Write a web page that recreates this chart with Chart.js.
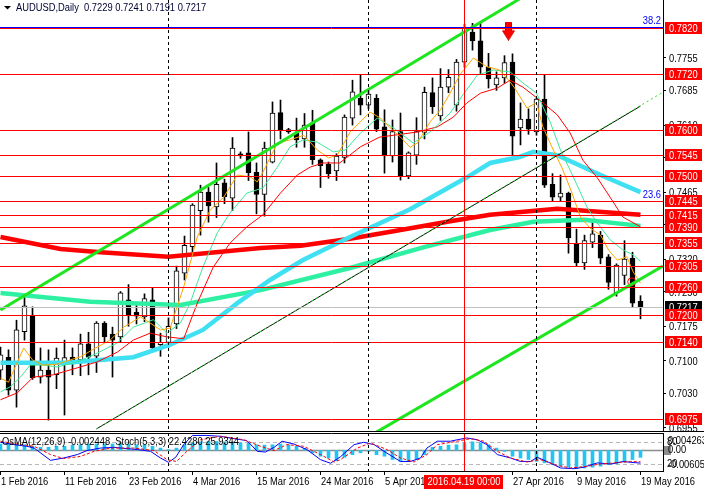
<!DOCTYPE html>
<html>
<head>
<meta charset="utf-8">
<script src="https://cdn.jsdelivr.net/npm/chart.js@4.4.1/dist/chart.umd.min.js"></script>
<style>
  html, body { margin: 0; padding: 0; background: #fff; }
  #wrap { position: relative; width: 704px; height: 494px; overflow: hidden; background: #fff; }
  #main { position: absolute; left: 0; top: 0; }
  #sub { position: absolute; left: 0; top: 432px; }
</style>
</head>
<body>
<div id="wrap">
  <canvas id="main" width="704" height="432"></canvas>
  <canvas id="sub" width="704" height="62"></canvas>
</div>
<script>
// daily bars, AUDUSD
const dates = [
  "1 Feb 2016","2 Feb 2016","3 Feb 2016","4 Feb 2016","5 Feb 2016","8 Feb 2016","9 Feb 2016","10 Feb 2016","11 Feb 2016","12 Feb 2016",
  "15 Feb 2016","16 Feb 2016","17 Feb 2016","18 Feb 2016","19 Feb 2016","22 Feb 2016","23 Feb 2016","24 Feb 2016","25 Feb 2016","26 Feb 2016",
  "29 Feb 2016","1 Mar 2016","2 Mar 2016","3 Mar 2016","4 Mar 2016","6 Mar 2016","7 Mar 2016","8 Mar 2016","9 Mar 2016","10 Mar 2016",
  "11 Mar 2016","14 Mar 2016","15 Mar 2016","16 Mar 2016","17 Mar 2016","18 Mar 2016","20 Mar 2016","21 Mar 2016","22 Mar 2016","23 Mar 2016",
  "24 Mar 2016","25 Mar 2016","28 Mar 2016","29 Mar 2016","30 Mar 2016","31 Mar 2016","1 Apr 2016","4 Apr 2016","5 Apr 2016","6 Apr 2016",
  "7 Apr 2016","8 Apr 2016","11 Apr 2016","12 Apr 2016","13 Apr 2016","14 Apr 2016","15 Apr 2016","18 Apr 2016","19 Apr 2016","20 Apr 2016",
  "21 Apr 2016","22 Apr 2016","25 Apr 2016","26 Apr 2016","27 Apr 2016","28 Apr 2016","29 Apr 2016","2 May 2016","3 May 2016","4 May 2016",
  "5 May 2016","6 May 2016","9 May 2016","10 May 2016","11 May 2016","12 May 2016","13 May 2016","16 May 2016","17 May 2016","18 May 2016",
  "19 May 2016"
];
const opens = [
  0.7080,0.7108,0.7037,0.7163,0.7199,0.7065,0.7080,0.7070,0.7095,0.7108,
  0.7102,0.7137,0.7110,0.7182,0.7158,0.7152,0.7232,0.7205,0.7195,0.7232,
  0.7135,0.7140,0.7180,0.7290,0.7347,0.7425,0.7465,0.7433,0.7485,0.7452,
  0.7548,0.7550,0.7508,0.7460,0.7530,0.7637,0.7600,0.7592,0.7580,0.7615,
  0.7535,0.7525,0.7511,0.7540,0.7625,0.7668,0.7653,0.7668,0.7606,0.7543,
  0.7596,0.7500,0.7545,0.7594,0.7680,0.7630,0.7692,0.7653,0.7746,0.7811,
  0.7792,0.7735,0.7697,0.7712,0.7746,0.7604,0.7623,0.7595,0.7666,0.7482,
  0.7454,0.7463,0.7353,0.7312,0.7357,0.7372,0.7325,0.7247,0.7285,0.7322,
  0.7229
];
const highs = [
  0.7130,0.7124,0.7188,0.7243,0.7217,0.7128,0.7124,0.7128,0.7145,0.7128,
  0.7158,0.7162,0.7185,0.7185,0.7173,0.7250,0.7265,0.7220,0.7245,0.7258,
  0.7160,0.7193,0.7305,0.7370,0.7440,0.7480,0.7475,0.7528,0.7493,0.7583,
  0.7552,0.7595,0.7528,0.7573,0.7660,0.7664,0.7603,0.7625,0.7635,0.7642,
  0.7537,0.7530,0.7548,0.7632,0.7707,0.7718,0.7685,0.7676,0.7643,0.7621,
  0.7636,0.7552,0.7626,0.7692,0.7712,0.7732,0.7730,0.7752,0.7828,0.7830,
  0.7830,0.7765,0.7725,0.7760,0.7764,0.7658,0.7645,0.7668,0.7718,0.7505,
  0.7502,0.7465,0.7385,0.7372,0.7400,0.7380,0.7330,0.7310,0.7360,0.7335,
  0.7241
];
const lows = [
  0.7060,0.7026,0.7000,0.7145,0.7060,0.7052,0.6972,0.7040,0.6983,0.7070,
  0.7068,0.7070,0.7075,0.7140,0.7065,0.7140,0.7175,0.7180,0.7185,0.7120,
  0.7110,0.7130,0.7170,0.7275,0.7335,0.7372,0.7400,0.7410,0.7440,0.7425,
  0.7538,0.7490,0.7418,0.7413,0.7528,0.7580,0.7592,0.7562,0.7562,0.7525,
  0.7475,0.7495,0.7490,0.7528,0.7610,0.7632,0.7645,0.7596,0.7506,0.7530,
  0.7491,0.7494,0.7525,0.7580,0.7635,0.7620,0.7680,0.7640,0.7735,0.7772,
  0.7720,0.7690,0.7685,0.7700,0.7545,0.7567,0.7590,0.7588,0.7475,0.7446,
  0.7446,0.7333,0.7305,0.7298,0.7345,0.7310,0.7255,0.7240,0.7265,0.7217,
  0.7191
];
const closes = [
  0.7113,0.7037,0.7167,0.7219,0.7063,0.7080,0.7065,0.7106,0.7107,0.7100,
  0.7137,0.7108,0.7182,0.7152,0.7145,0.7247,0.7200,0.7197,0.7235,0.7128,
  0.7140,0.7175,0.7295,0.7350,0.7437,0.7465,0.7435,0.7482,0.7455,0.7560,
  0.7543,0.7507,0.7460,0.7560,0.7636,0.7600,0.7595,0.7578,0.7610,0.7535,
  0.7522,0.7505,0.7543,0.7627,0.7682,0.7653,0.7677,0.7601,0.7543,0.7596,
  0.7500,0.7550,0.7596,0.7681,0.7650,0.7692,0.7713,0.7746,0.7820,0.7792,
  0.7735,0.7710,0.7712,0.7745,0.7586,0.7623,0.7601,0.7666,0.7480,0.7454,
  0.7463,0.7366,0.7312,0.7360,0.7375,0.7322,0.7270,0.7307,0.7320,0.7225,
  0.7217
];

// moving averages: [bar, price]
const maFast = [[0,0.7063],[1,0.7054],[2.9,0.7128],[4,0.7102],[5.3,0.7091],[7.1,0.7093],[8.7,0.7102],[10,0.7109],[12.1,0.7130],[13.7,0.7145],[15.4,0.7173],[17.5,0.7195],[18.7,0.7182],[20,0.7167],[21.2,0.7171],[22.9,0.7260],[24.6,0.7368],[26.2,0.7426],[27.9,0.7454],[29.6,0.7502],[31.2,0.7498],[32.1,0.7487],[32.8,0.7508],[34.6,0.7571],[36.2,0.7578],[37.9,0.7588],[39.6,0.7556],[41,0.7539],[42.1,0.7545],[43.7,0.7595],[46.2,0.7638],[47.5,0.7625],[48.7,0.7604],[50,0.7584],[51.2,0.7562],[52.1,0.7571],[53.7,0.7617],[55,0.7643],[56.2,0.7679],[57.4,0.7718],[59.1,0.7755],[60.8,0.7736],[62.4,0.7729],[63.7,0.7703],[64.2,0.7692],[65.8,0.7647],[67,0.7658],[67.8,0.7606],[69.1,0.7556],[70.2,0.7517],[71.2,0.7474],[72.5,0.7411],[73.7,0.7387],[75,0.7372],[76,0.7340],[77.1,0.7318],[78.3,0.7325],[79.1,0.7292],[80,0.7268]];
const maMid = [[0,0.7033],[1.2,0.7044],[2.5,0.7065],[3.7,0.7091],[5.3,0.7091],[7.1,0.7087],[9.6,0.7098],[12.1,0.7117],[14.6,0.7139],[16.6,0.7173],[19.1,0.7189],[20.8,0.7160],[22.5,0.7182],[23.7,0.7225],[25.3,0.7303],[27.1,0.7377],[28.7,0.7420],[30.8,0.7463],[32.8,0.7474],[34.6,0.7519],[36.2,0.7563],[37.8,0.7578],[39.6,0.7573],[41.6,0.7552],[43.1,0.7556],[45,0.7593],[47.1,0.7625],[49.1,0.7604],[51.6,0.7571],[53.7,0.7595],[56.2,0.7636],[57.8,0.7675],[59.6,0.7718],[61.6,0.7729],[63.7,0.7725],[65.3,0.7701],[67,0.7679],[68.7,0.7617],[70,0.7556],[71.6,0.7498],[73.3,0.7433],[74.6,0.7398],[76.2,0.7362],[77.8,0.7340],[79.1,0.7329],[80,0.7315]];
const maSlow = [[0,0.7016],[2.1,0.7031],[4.1,0.7065],[6.6,0.7070],[9.6,0.7085],[12.1,0.7098],[14.6,0.7119],[16.6,0.7145],[18.7,0.7160],[20.8,0.7152],[22.9,0.7148],[24.6,0.7225],[26.6,0.7303],[28.7,0.7355],[30.8,0.7390],[32.8,0.7416],[35,0.7463],[37.1,0.7502],[38.7,0.7519],[40.3,0.7528],[42.4,0.7528],[45,0.7563],[47.4,0.7584],[49.6,0.7589],[52.1,0.7595],[54.6,0.7606],[56.6,0.7627],[58.3,0.7658],[60,0.7679],[62.1,0.7690],[63.7,0.7707],[65.3,0.7692],[67.4,0.7664],[69.6,0.7632],[71.2,0.7593],[72.8,0.7534],[74.6,0.7496],[76.2,0.7454],[77.8,0.7411],[79.6,0.7394],[80,0.7390]];
const ma50 = [[0,0.7096],[8.3,0.7096],[16.6,0.7108],[21.2,0.7135],[25.3,0.7167],[29.6,0.7225],[33.7,0.7275],[37.8,0.7318],[43.7,0.7368],[51.2,0.7428],[58.3,0.7497],[61.2,0.7528],[64.9,0.7541],[66.6,0.7552],[69.6,0.7545],[75,0.7502],[80,0.7465]];
const ma100 = [[0,0.7247],[11.2,0.7228],[22.5,0.7221],[32.5,0.7253],[43.7,0.7301],[52.5,0.7344],[61.2,0.7383],[66.6,0.7401],[72.9,0.7405],[80,0.7392]];
const ma200 = [[0,0.7368],[7.5,0.7342],[12.5,0.7335],[21,0.7325],[32.5,0.7344],[37.5,0.7349],[43.7,0.7364],[50,0.7383],[56.2,0.7402],[61.2,0.7416],[69.6,0.7429],[80,0.7416]];

// trend channel
const chanUpper = [[0,0.7210],[65,0.7884]];
const chanLower = [[47,0.6946],[82.8,0.7305]];
const chanMid = [[12,0.6953],[80,0.7651]];
const chanMidRay = [[12,0.6953],[82.8,0.7681]];

// horizontal levels and axis
const levels = [0.7820,0.7720,0.7600,0.7545,0.7500,0.7445,0.7415,0.7390,0.7355,0.7305,0.7260,0.7200,0.7140,0.6975];
const fibLevels = [[0.78225,"38.2"],[0.7445,"23.6"]];
const priceTicks = [0.7755,0.7685,0.7610,0.7540,0.7465,0.7395,0.7320,0.7250,0.7175,0.7100,0.7030,0.6955];
const separators = [21,46,67];
const crossBar = 58;
const crossLabel = "2016.04.19 00:00";
const signalArrow = [[63.5,0.7813]];
const signalCircle = [[78.9,0.7271]];
const dateTicks = [0,8,16,24,32,40,48,64,72,80];

// OsMA(12,26,9) and Stoch(5,3,3)
const osma = [
  0.0017,0.0017,0.0017,0.0015,0.0011,0.0008,0.0008,0.0011,0.0011,0.0014,
  0.0015,0.0017,0.0017,0.0017,0.0017,0.0020,0.0017,0.0015,0.0014,0.0011,
  0.0006,0.0002,0.0006,0.0015,0.0020,0.0023,0.0024,0.0024,0.0023,0.0023,
  0.0020,0.0020,0.0015,0.0014,0.0015,0.0017,0.0015,0.0011,0.0005,-0.0007,
  -0.0016,-0.0021,-0.0028,-0.0019,-0.0012,-0.0007,-0.0003,-0.0012,-0.0016,-0.0025,
  -0.0030,-0.0028,-0.0023,-0.0012,0.0008,0.0011,0.0014,0.0015,0.0020,0.0023,
  0.0020,0.0015,0.0006,-0.0003,-0.0016,-0.0021,-0.0025,-0.0030,-0.0034,-0.0039,
  -0.0043,-0.0046,-0.0050,-0.0048,-0.0046,-0.0043,-0.0039,-0.0037,-0.0032,-0.0025,
  -0.0019
];
const stochMain = [[0,80],[1.7,73.5],[3.3,69],[4.2,64],[6.25,30],[7.9,36.6],[9.6,46],[10.8,57],[12.5,64],[14.2,66],[15.8,62.5],[17.1,60],[18.75,55],[20,36.6],[21,24.6],[21.9,38.5],[22.9,73.5],[24,99],[25.8,99],[27.5,96.6],[29.2,90],[30.8,84.6],[32.1,55],[33.1,53],[34.2,66],[35.2,83],[36.7,75],[38.3,60],[40,32],[41.25,22],[42.5,40],[44.2,73.5],[45.4,80],[46.7,73.5],[48.3,50],[50,27],[51.25,27],[52.5,36.6],[53.3,64],[54.6,83],[56.25,83],[57.1,87],[58.3,92],[59.6,87],[60.8,73.5],[62.1,46],[63.75,36.6],[65,27],[66.25,27],[67.1,38.5],[68.3,27],[70,9],[71.7,7],[72.9,11],[74.6,23],[76.25,20],[77.9,27],[78.75,24.6],[80,22.4]];
const stochSignal = [[0,83],[2.5,73.5],[4.2,69],[6.25,46],[7.9,35],[10,41],[11.7,55],[13.75,64],[16.7,64],[19.2,57],[20.8,32],[22,27],[23.3,55],[25,87],[27.5,96.6],[30.4,87],[32.5,69],[34.2,57],[35.8,73.5],[37.9,69],[40,46],[41.7,25.5],[42.5,32],[44.6,64],[46.25,78],[48.3,60],[50,36.6],[51.7,25.5],[53.3,46],[54.6,73.5],[57.1,83],[58.75,90],[60.4,83],[62.1,55],[63.75,36.6],[65.8,25.5],[67.5,32],[69.6,16],[71.25,9],[73.3,13.5],[75,20],[76.7,23],[78.75,27],[80,25.9]];
const subLegend = "OsMA(12,26,9) -0.002448  Stoch(5,3,3) 22.4280 25.9344";
const osmaAxisLabels = ["0.004263", "0.00", "-0.00605"];
const stochLevels = [80, 20];

const FONT = "'Liberation Sans', Arial, sans-serif";
Chart.defaults.font.family = FONT;
Chart.defaults.font.size = 11;

const X_MIN = -0.0625, X_MAX = 82.8125;
const P_MIN = 0.69463, P_MAX = 0.78804;
const OS_MIN = -0.00561, OS_MAX = 0.00469;

const bars = dates.map((d, i) => i);
const pts = a => a.map(([x, y]) => ({x, y}));
const lineSet = (data, color, width, order, extra) => Object.assign({
  type: 'line', data: pts(data), borderColor: color, borderWidth: width,
  pointRadius: 0, tension: 0, clip: 0, order: order
}, extra || {});

// narrow terminal-like lettering: squeeze the installed sans horizontally
function label(ctx, str, x, y, align) {
  ctx.save();
  ctx.translate(x, y);
  ctx.scale(0.85, 1);
  ctx.textAlign = align || 'left';
  ctx.textBaseline = 'middle';
  ctx.fillText(str, 0, 0);
  ctx.restore();
}

function arrowImage() {
  const c = document.createElement('canvas');
  c.width = 13; c.height = 19;
  const g = c.getContext('2d');
  g.beginPath();
  g.moveTo(3.5, 0.5); g.lineTo(9.5, 0.5); g.lineTo(9.5, 9); g.lineTo(12.5, 9);
  g.lineTo(6.5, 18.5); g.lineTo(0.5, 9); g.lineTo(3.5, 9); g.closePath();
  g.fillStyle = '#ff0000'; g.fill();
  g.strokeStyle = '#d00000'; g.lineWidth = 1; g.stroke();
  return c;
}

function hLine(ctx, a, py, color, width) {
  const yy = Math.round(py) + 0.5;
  ctx.save();
  ctx.strokeStyle = color; ctx.lineWidth = width || 1;
  ctx.beginPath(); ctx.moveTo(a.left, yy); ctx.lineTo(a.right, yy); ctx.stroke();
  ctx.restore();
}
function vLine(ctx, px, top, bottom, color, dash) {
  const xx = Math.floor(px) + 0.5;
  ctx.save();
  ctx.strokeStyle = color; ctx.lineWidth = 1; ctx.setLineDash(dash || []);
  ctx.beginPath(); ctx.moveTo(xx, top); ctx.lineTo(xx, bottom); ctx.stroke();
  ctx.restore();
}

const mainOverlay = {
  id: 'mainOverlay',
  afterDatasetsDraw(chart) {
    const {ctx, chartArea: a, scales: {x, y}} = chart;
    ctx.save();
    ctx.beginPath(); ctx.rect(a.left, a.top, a.width, a.height); ctx.clip();
    hLine(ctx, a, y.getPixelForValue(closes[closes.length - 1]), '#c0c0c0');
    fibLevels.forEach(([v]) => hLine(ctx, a, y.getPixelForValue(v), '#0000ff'));
    levels.forEach(v => hLine(ctx, a, y.getPixelForValue(v), '#ff0000'));
    separators.forEach(i => vLine(ctx, x.getPixelForValue(i), a.top, a.bottom, '#000', [3, 3]));
    vLine(ctx, x.getPixelForValue(crossBar), a.top, a.bottom, '#ff0000');
    ctx.font = '11px ' + FONT;
    ctx.fillStyle = '#0000ff';
    fibLevels.forEach(([v, t]) => label(ctx, t, a.right - 2, Math.round(y.getPixelForValue(v)) - 6, 'right'));
    ctx.restore();
  },
  afterDraw(chart) {
    const {ctx, chartArea: a, scales: {y}} = chart;
    ctx.save();
    ctx.font = '11px ' + FONT;
    // header
    ctx.fillStyle = '#000';
    ctx.beginPath(); ctx.moveTo(4, 6); ctx.lineTo(11, 6); ctx.lineTo(7.5, 9.5); ctx.closePath(); ctx.fill();
    const n = closes.length - 1;
    const hdr = 'AUDUSD,Daily  ' + [opens[n], highs[n], lows[n], closes[n]].map(v => v.toFixed(4)).join(' ');
    ctx.fillStyle = '#000033';
    label(ctx, hdr, 16, 8);
    // bottom border of the price panel
    ctx.strokeStyle = '#000'; ctx.lineWidth = 1;
    ctx.beginPath(); ctx.moveTo(0, a.bottom - 0.5); ctx.lineTo(704, a.bottom - 0.5); ctx.stroke();
    // price scale
    ctx.fillStyle = '#000';
    priceTicks.forEach(v => label(ctx, v.toFixed(4), a.right + 6, Math.round(y.getPixelForValue(v)) + 0.5));
    const box = (v, bg) => {
      const py = Math.round(y.getPixelForValue(v));
      ctx.fillStyle = bg; ctx.fillRect(a.right + 2, py - 6, 37, 12);
      ctx.fillStyle = '#fff'; label(ctx, v.toFixed(4), a.right + 6, py + 0.5);
    };
    box(closes[n], '#000');
    levels.forEach(v => box(v, '#ff0000'));
    ctx.restore();
  }
};

new Chart(document.getElementById('main'), {
  type: 'bar',
  data: {
    datasets: [
      lineSet(chanUpper, '#1ee61e', 3, 1),
      lineSet(chanLower, '#1ee61e', 3, 1),
      lineSet(chanMidRay, '#1ee61e', 1, 1, {borderDash: [2, 3]}),
      lineSet(chanMid, '#000000', 1, 2),
      {type: 'line', data: pts(signalArrow), showLine: false, pointStyle: arrowImage(), pointRadius: 7, clip: 0, order: 1},
      {type: 'line', data: pts(signalCircle), showLine: false, pointStyle: 'circle', pointRadius: 4,
       pointBorderColor: '#ff0000', pointBackgroundColor: 'rgba(0,0,0,0)', pointBorderWidth: 1, clip: 0, order: 1},
      lineSet(maFast, '#ffa500', 1, 3),
      lineSet(maMid, '#3de89a', 1, 3),
      lineSet(maSlow, '#ff0000', 1, 3),
      lineSet(ma50, '#3ee0f2', 4.5, 4),
      lineSet(ma100, '#2ef0a2', 4.5, 4),
      lineSet(ma200, '#ff0000', 4.5, 4),
      {type: 'bar', data: bars.map(i => ({x: i, y: [opens[i], closes[i]]})), grouped: false,
       barThickness: 5, borderWidth: 1, borderColor: '#000', borderSkipped: false,
       backgroundColor: bars.map(i => closes[i] >= opens[i] ? '#ffffff' : '#000000'), order: 8},
      {type: 'bar', data: bars.map(i => ({x: i, y: [lows[i], highs[i]]})), grouped: false,
       barThickness: 1, backgroundColor: '#000', borderWidth: 0, order: 9}
    ]
  },
  options: {
    responsive: false, animation: false, devicePixelRatio: 1, events: [],
    layout: {autoPadding: false, padding: 0},
    plugins: {legend: {display: false}, tooltip: {enabled: false}},
    scales: {
      x: {type: 'linear', min: X_MIN, max: X_MAX, display: false, offset: false, grid: {offset: false}},
      y: {
        type: 'linear', position: 'right', min: P_MIN, max: P_MAX,
        afterFit: s => { s.width = 41; },
        afterBuildTicks: s => { s.ticks = priceTicks.map(v => ({value: v})); },
        ticks: {display: false},
        grid: {drawOnChartArea: false, drawTicks: true, tickLength: 3, color: '#000'},
        border: {display: true, color: '#000'}
      }
    }
  },
  plugins: [mainOverlay]
});

const subOverlay = {
  id: 'subOverlay',
  beforeDatasetsDraw(chart) {
    const {ctx, chartArea: a, scales: {yo, ys}} = chart;
    ctx.save();
    ctx.strokeStyle = '#b8b8b8'; ctx.setLineDash([4, 3]); ctx.lineWidth = 1;
    stochLevels.forEach(v => {
      const yy = Math.round(ys.getPixelForValue(v)) + 0.5;
      ctx.beginPath(); ctx.moveTo(a.left, yy); ctx.lineTo(a.right, yy); ctx.stroke();
    });
    ctx.restore();
    hLine(ctx, a, yo.getPixelForValue(0), '#8c8c8c', 1.5);
  },
  afterDatasetsDraw(chart) {
    const {ctx, chartArea: a, scales: {x}} = chart;
    separators.forEach(i => vLine(ctx, x.getPixelForValue(i), a.top, a.bottom, '#000', [3, 3]));
    vLine(ctx, x.getPixelForValue(crossBar), a.top, a.bottom, '#ff0000');
    ctx.save();
    ctx.strokeStyle = '#000'; ctx.lineWidth = 1;
    ctx.beginPath(); ctx.moveTo(a.left, a.top + 0.5); ctx.lineTo(a.right, a.top + 0.5); ctx.stroke();
    ctx.font = '11px ' + FONT; ctx.fillStyle = '#000';
    label(ctx, subLegend, 2, a.top + 9);
    ctx.restore();
  },
  afterDraw(chart) {
    const {ctx, chartArea: a, scales: {x, yo, ys}} = chart;
    ctx.save();
    ctx.font = '11px ' + FONT;
    const z = Math.round(yo.getPixelForValue(0));
    ctx.fillStyle = '#8c8c8c'; ctx.fillRect(a.right + 1, z - 4, 7, 9);
    ctx.fillStyle = '#000';
    stochLevels.forEach(v => label(ctx, String(v), a.right + 4, Math.round(ys.getPixelForValue(v))));
    label(ctx, osmaAxisLabels[0], a.right + 5, a.top + 8);
    label(ctx, osmaAxisLabels[1], a.right + 5, z);
    label(ctx, osmaAxisLabels[2], a.right + 5, a.bottom - 6);
    // dates
    const ly = a.bottom + 11;
    dateTicks.forEach(i => label(ctx, dates[i], Math.floor(x.getPixelForValue(i)) + 1, ly));
    const cx = Math.floor(x.getPixelForValue(crossBar));
    ctx.fillStyle = '#ff0000'; ctx.fillRect(cx - 40, a.bottom + 4, 79, 14);
    ctx.fillStyle = '#fff';
    label(ctx, crossLabel, cx, ly, 'center');
    ctx.restore();
  }
};

new Chart(document.getElementById('sub'), {
  type: 'bar',
  data: {
    datasets: [
      lineSet(stochSignal, '#ff0000', 1, 1, {yAxisID: 'ys', borderDash: [3, 2]}),
      lineSet(stochMain, '#0000ff', 1, 2, {yAxisID: 'ys'}),
      {type: 'bar', data: bars.map(i => ({x: i, y: osma[i]})), yAxisID: 'yo', grouped: false,
       barThickness: 3, backgroundColor: '#22c4f2', borderWidth: 0, order: 3}
    ]
  },
  options: {
    responsive: false, animation: false, devicePixelRatio: 1, events: [],
    layout: {autoPadding: false, padding: {top: 1, left: 0, right: 0, bottom: 0}},
    plugins: {legend: {display: false}, tooltip: {enabled: false}},
    scales: {
      x: {
        type: 'linear', min: X_MIN, max: X_MAX, offset: false,
        afterFit: s => { s.height = 23; },
        afterBuildTicks: s => { s.ticks = dateTicks.map(v => ({value: v})); },
        ticks: {display: false},
        grid: {drawOnChartArea: false, drawTicks: true, tickLength: 4, color: '#000', offset: false},
        border: {display: true, color: '#000'}
      },
      yo: {
        type: 'linear', position: 'right', min: OS_MIN, max: OS_MAX,
        afterFit: s => { s.width = 41; },
        ticks: {display: false}, grid: {display: false},
        border: {display: true, color: '#000'}
      },
      ys: {type: 'linear', position: 'right', min: 0.6, max: 105.7, display: false}
    }
  },
  plugins: [subOverlay]
});
</script>
</body>
</html>
